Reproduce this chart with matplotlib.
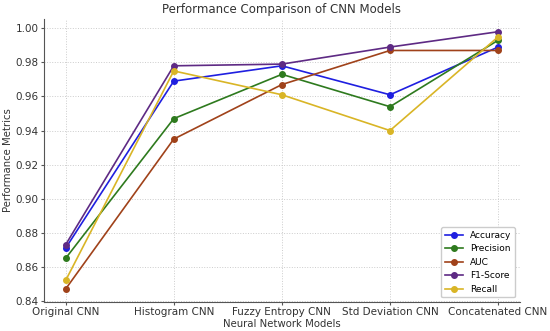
import matplotlib
matplotlib.use("Agg")
import matplotlib.pyplot as plt

models = ["Original CNN", "Histogram CNN", "Fuzzy Entropy CNN", "Std Deviation CNN", "Concatenated CNN"]
accuracy = [0.871, 0.969, 0.978, 0.961, 0.989]
precision = [0.865, 0.947, 0.973, 0.954, 0.993]
auc = [0.847, 0.935, 0.967, 0.987, 0.987]
f1_score = [0.873, 0.978, 0.979, 0.989, 0.998]
recall = [0.852, 0.975, 0.961, 0.940, 0.995]

series = [
    ("Accuracy", accuracy, "#1f1fe0"),
    ("Precision", precision, "#2e7a1e"),
    ("AUC", auc, "#a0421a"),
    ("F1-Score", f1_score, "#5e2a84"),
    ("Recall", recall, "#d9b526"),
]

fig, ax = plt.subplots(figsize=(5.5, 3.31), dpi=100)
x = list(range(len(models)))
for name, vals, col in series:
    ax.plot(x, vals, marker="o", markersize=4, linewidth=1.2, color=col, label=name)

ax.set_xticks(x)
ax.set_xticklabels(models, fontsize=7.5, color="#333333")
ax.tick_params(axis="both", labelsize=7.5, labelcolor="#333333", length=2.5, pad=1.5, color="#555555")
ax.set_title("Performance Comparison of CNN Models", fontsize=8.5, color="#333333", pad=4)
ax.set_xlabel("Neural Network Models", fontsize=7.3, color="#333333", labelpad=1)
ax.set_ylabel("Performance Metrics", fontsize=7.3, color="#333333", labelpad=2)
ax.yaxis.set_major_formatter(matplotlib.ticker.FormatStrFormatter("%.2f"))
ax.grid(True, linestyle=":", color="#cccccc", linewidth=0.7)
for s in ["top", "right"]:
    ax.spines[s].set_visible(False)
for s in ["left", "bottom"]:
    ax.spines[s].set_color("#555555")
ax.legend(loc="lower right", fontsize=6.5, framealpha=1, edgecolor="#cccccc")
fig.subplots_adjust(left=0.08, right=0.945, bottom=0.088, top=0.943)
fig.savefig("out.png", dpi=100)
